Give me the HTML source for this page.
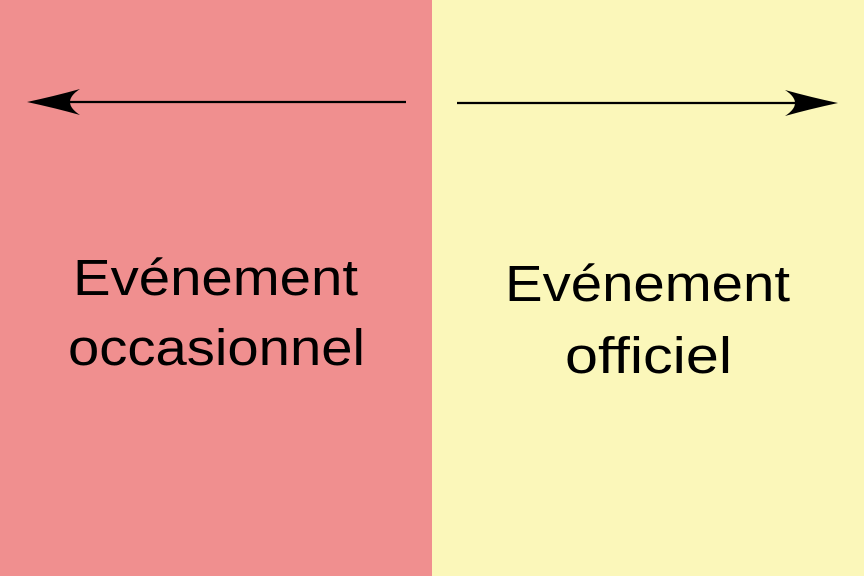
<!DOCTYPE html>
<html><head><meta charset="utf-8"><style>
html,body{margin:0;padding:0}
body{width:864px;height:576px;overflow:hidden;position:relative;font-family:"Liberation Sans","DejaVu Sans",sans-serif}
svg{position:absolute;left:0;top:0}
</style></head><body>
<svg width="864" height="576" viewBox="0 0 864 576">
<rect x="0" y="0" width="432" height="576" fill="#F08F8F"/>
<rect x="432" y="0" width="432" height="576" fill="#FBF7BA"/>
<line x1="406" y1="102" x2="40" y2="102" stroke="#000" stroke-width="2.2"/>
<path d="M27,102 Q55,96 80,89 Q60,102 80,115 Q55,108 27,102 Z" fill="#000"/>
<line x1="457" y1="103" x2="825" y2="103" stroke="#000" stroke-width="2.2"/>
<path d="M838,103 Q810,97 785,90 Q805,103 785,116 Q810,109 838,103 Z" fill="#000"/>
<g font-size="51" fill="#000" font-family="Liberation Sans, DejaVu Sans, sans-serif">
<text x="73" y="295" textLength="285" lengthAdjust="spacingAndGlyphs">Evénement</text>
<text x="68" y="365" textLength="297" lengthAdjust="spacingAndGlyphs">occasionnel</text>
<text x="505" y="301" textLength="285" lengthAdjust="spacingAndGlyphs">Evénement</text>
<text x="565" y="373" textLength="167" lengthAdjust="spacingAndGlyphs">officiel</text>
</g>
</svg>
</body></html>
